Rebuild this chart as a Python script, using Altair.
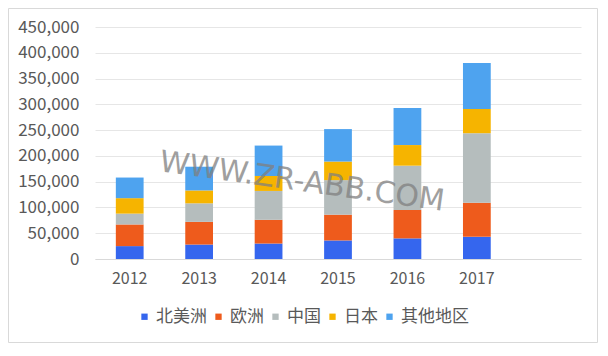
import altair as alt
import pandas as pd

years = ["2012", "2013", "2014", "2015", "2016", "2017"]
regions = ["北美洲", "欧洲", "中国", "日本", "其他地区"]
north_america = [25000, 28000, 30000, 36000, 40000, 43000]
europe = [42000, 44000, 46000, 50000, 55000, 66000]
china = [21000, 36000, 56000, 67000, 86000, 135000]
japan = [30000, 25000, 29000, 36000, 40000, 47000]
others = [40000, 46000, 59000, 63000, 72000, 89000]
colors = ["#3566ee", "#ee5b1c", "#b5bdbd", "#f6b400", "#4ea3ef"]
y_ticks = [0, 50000, 100000, 150000, 200000, 250000, 300000, 350000, 400000, 450000]
watermark = "WWW.ZR-ABB.COM"

series = [north_america, europe, china, japan, others]
rows = []
for ri, (name, vals) in enumerate(zip(regions, series)):
    for y, v in zip(years, vals):
        rows.append({"year": y, "region": name, "value": v, "idx": ri})
df = pd.DataFrame(rows)

FONT = "Noto Sans CJK SC"
TXT = "#595959"

x_domain = years + [" "]

bars = alt.Chart(df).mark_bar().encode(
    x=alt.X("year:N", scale=alt.Scale(domain=x_domain, paddingInner=0.6, paddingOuter=0.3),
            axis=alt.Axis(title=None, labelAngle=0, ticks=False, labelPadding=11,
                          labelFontSize=16, labelColor=TXT, labelFont=FONT,
                          domainColor="#d9d9d9", grid=False)),
    y=alt.Y("value:Q", stack="zero", scale=alt.Scale(domain=[0, 450000], nice=False),
            axis=alt.Axis(title=None, format=",d", values=y_ticks, labelOverlap=False,
                          domain=False, ticks=False, labelPadding=16,
                          labelFontSize=17, labelColor=TXT, labelFont=FONT,
                          gridColor="#e6e6e6")),
    color=alt.Color("region:N", scale=alt.Scale(domain=regions, range=colors),
                    legend=alt.Legend(title=None, orient="none", direction="horizontal",
                                      legendX=41, legendY=281, symbolType="square",
                                      symbolSize=40, symbolStrokeWidth=0,
                                      labelFontSize=17, labelColor=TXT, labelFont=FONT,
                                      labelOffset=3, columnPadding=3)),
    order=alt.Order("idx:Q", sort="ascending"),
)

wm = alt.Chart(alt.Data(values=[{"t": watermark}])).mark_text(
    font="DejaVu Sans", fontSize=30, color="#808080", opacity=0.75, angle=8
).encode(text="t:N", x=alt.value(207), y=alt.value(155))

border = alt.Chart(alt.Data(values=[{}])).mark_rect(
    fillOpacity=0, stroke="#d9d9d9", strokeWidth=1
).encode(x=alt.value(-86.5), x2=alt.value(502.5), y=alt.value(-18.5), y2=alt.value(315.5))

chart = alt.layer(border, bars, wm).properties(
    width=486, height=232,
    padding={"left": 87, "top": 19, "right": 17, "bottom": 84},
    autosize=alt.AutoSizeParams(type="none"),
    background="white",
).configure_view(stroke=None)

chart.save("out.html", embed_options={"renderer": "svg", "actions": False})
